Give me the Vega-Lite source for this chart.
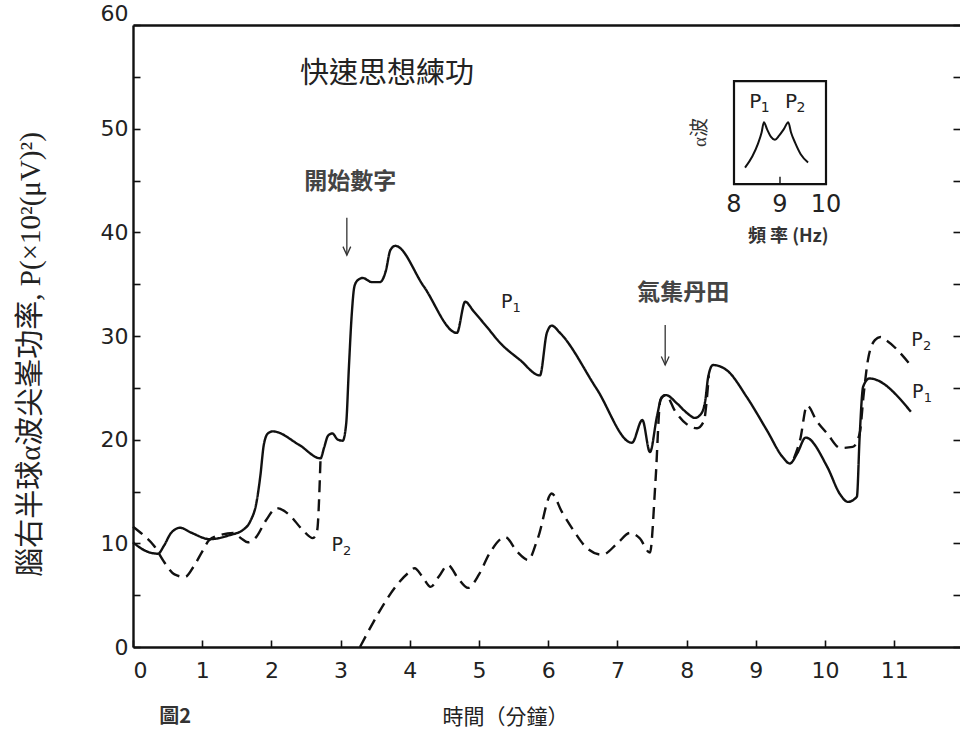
{
  "$schema": "https://vega.github.io/schema/vega-lite/v6.json",
  "width": 827,
  "height": 622,
  "autosize": {"type": "none"},
  "padding": {"left": 133, "top": 25, "right": 0, "bottom": 88},
  "background": "white",
  "config": {
    "view": {"stroke": null},
    "axis": {"grid": false}
  },
  "datasets": {
    "curves": [
      {"series": "P1", "seg": "p1", "t": 0.00, "p": 10.1},
      {"series": "P1", "seg": "p1", "t": 0.12, "p": 9.5},
      {"series": "P1", "seg": "p1", "t": 0.25, "p": 9.1},
      {"series": "P1", "seg": "p1", "t": 0.36, "p": 9.0},
      {"series": "P1", "seg": "p1", "t": 0.45, "p": 9.8},
      {"series": "P1", "seg": "p1", "t": 0.55, "p": 11.0},
      {"series": "P1", "seg": "p1", "t": 0.68, "p": 11.5},
      {"series": "P1", "seg": "p1", "t": 0.85, "p": 11.0},
      {"series": "P1", "seg": "p1", "t": 1.11, "p": 10.4},
      {"series": "P1", "seg": "p1", "t": 1.40, "p": 10.8},
      {"series": "P1", "seg": "p1", "t": 1.59, "p": 11.3},
      {"series": "P1", "seg": "p1", "t": 1.70, "p": 12.2},
      {"series": "P1", "seg": "p1", "t": 1.78, "p": 13.8},
      {"series": "P1", "seg": "p1", "t": 1.84, "p": 16.5},
      {"series": "P1", "seg": "p1", "t": 1.89, "p": 19.5},
      {"series": "P1", "seg": "p1", "t": 1.95, "p": 20.6},
      {"series": "P1", "seg": "p1", "t": 2.02, "p": 20.8},
      {"series": "P1", "seg": "p1", "t": 2.40, "p": 19.5},
      {"series": "P1", "seg": "p1", "t": 2.71, "p": 18.2},
      {"series": "P1", "seg": "p1", "t": 2.76, "p": 19.2},
      {"series": "P1", "seg": "p1", "t": 2.82, "p": 20.4},
      {"series": "P1", "seg": "p1", "t": 2.88, "p": 20.6},
      {"series": "P1", "seg": "p1", "t": 2.96, "p": 20.0},
      {"series": "P1", "seg": "p1", "t": 3.03, "p": 19.9},
      {"series": "P1", "seg": "p1", "t": 3.08, "p": 21.5},
      {"series": "P1", "seg": "p1", "t": 3.12, "p": 27.0},
      {"series": "P1", "seg": "p1", "t": 3.16, "p": 32.0},
      {"series": "P1", "seg": "p1", "t": 3.20, "p": 34.8},
      {"series": "P1", "seg": "p1", "t": 3.25, "p": 35.4},
      {"series": "P1", "seg": "p1", "t": 3.32, "p": 35.6},
      {"series": "P1", "seg": "p1", "t": 3.45, "p": 35.2},
      {"series": "P1", "seg": "p1", "t": 3.57, "p": 35.2},
      {"series": "P1", "seg": "p1", "t": 3.65, "p": 36.2},
      {"series": "P1", "seg": "p1", "t": 3.72, "p": 38.3},
      {"series": "P1", "seg": "p1", "t": 3.79, "p": 38.7},
      {"series": "P1", "seg": "p1", "t": 4.20, "p": 34.8},
      {"series": "P1", "seg": "p1", "t": 4.68, "p": 30.3},
      {"series": "P1", "seg": "p1", "t": 4.80, "p": 33.3},
      {"series": "P1", "seg": "p1", "t": 4.92, "p": 32.4},
      {"series": "P1", "seg": "p1", "t": 5.11, "p": 30.9},
      {"series": "P1", "seg": "p1", "t": 5.31, "p": 29.3},
      {"series": "P1", "seg": "p1", "t": 5.59, "p": 27.7},
      {"series": "P1", "seg": "p1", "t": 5.88, "p": 26.2},
      {"series": "P1", "seg": "p1", "t": 5.98, "p": 30.3},
      {"series": "P1", "seg": "p1", "t": 6.05, "p": 31.0},
      {"series": "P1", "seg": "p1", "t": 6.17, "p": 30.3},
      {"series": "P1", "seg": "p1", "t": 6.70, "p": 24.9},
      {"series": "P1", "seg": "p1", "t": 7.21, "p": 19.7},
      {"series": "P1", "seg": "p1", "t": 7.36, "p": 21.9},
      {"series": "P1", "seg": "p1", "t": 7.47, "p": 18.8},
      {"series": "P1", "seg": "p1", "t": 7.57, "p": 22.2},
      {"series": "P1", "seg": "p1", "t": 7.64, "p": 24.1},
      {"series": "P1", "seg": "p1", "t": 7.70, "p": 24.3},
      {"series": "P1", "seg": "p1", "t": 7.86, "p": 23.5},
      {"series": "P1", "seg": "p1", "t": 8.00, "p": 22.6},
      {"series": "P1", "seg": "p1", "t": 8.12, "p": 22.1},
      {"series": "P1", "seg": "p1", "t": 8.22, "p": 22.6},
      {"series": "P1", "seg": "p1", "t": 8.27, "p": 23.8},
      {"series": "P1", "seg": "p1", "t": 8.31, "p": 26.0},
      {"series": "P1", "seg": "p1", "t": 8.38, "p": 27.2},
      {"series": "P1", "seg": "p1", "t": 8.58, "p": 26.7},
      {"series": "P1", "seg": "p1", "t": 8.87, "p": 24.1},
      {"series": "P1", "seg": "p1", "t": 9.16, "p": 20.9},
      {"series": "P1", "seg": "p1", "t": 9.39, "p": 18.3},
      {"series": "P1", "seg": "p1", "t": 9.49, "p": 17.7},
      {"series": "P1", "seg": "p1", "t": 9.60, "p": 18.7},
      {"series": "P1", "seg": "p1", "t": 9.72, "p": 20.2},
      {"series": "P1", "seg": "p1", "t": 10.03, "p": 17.4},
      {"series": "P1", "seg": "p1", "t": 10.22, "p": 14.7},
      {"series": "P1", "seg": "p1", "t": 10.33, "p": 14.0},
      {"series": "P1", "seg": "p1", "t": 10.46, "p": 14.5},
      {"series": "P1", "seg": "p1", "t": 10.50, "p": 20.3},
      {"series": "P1", "seg": "p1", "t": 10.55, "p": 25.1},
      {"series": "P1", "seg": "p1", "t": 10.64, "p": 25.9},
      {"series": "P1", "seg": "p1", "t": 11.24, "p": 22.7},

      {"series": "P2", "seg": "p2a", "t": 0.00, "p": 11.6},
      {"series": "P2", "seg": "p2a", "t": 0.15, "p": 10.8},
      {"series": "P2", "seg": "p2a", "t": 0.30, "p": 9.8},
      {"series": "P2", "seg": "p2a", "t": 0.45, "p": 8.2},
      {"series": "P2", "seg": "p2a", "t": 0.60, "p": 7.0},
      {"series": "P2", "seg": "p2a", "t": 0.75, "p": 6.75},
      {"series": "P2", "seg": "p2a", "t": 0.88, "p": 7.8},
      {"series": "P2", "seg": "p2a", "t": 1.00, "p": 9.2},
      {"series": "P2", "seg": "p2a", "t": 1.10, "p": 10.3},
      {"series": "P2", "seg": "p2a", "t": 1.26, "p": 10.8},
      {"series": "P2", "seg": "p2a", "t": 1.45, "p": 11.0},
      {"series": "P2", "seg": "p2a", "t": 1.56, "p": 10.5},
      {"series": "P2", "seg": "p2a", "t": 1.66, "p": 10.1},
      {"series": "P2", "seg": "p2a", "t": 1.78, "p": 10.6},
      {"series": "P2", "seg": "p2a", "t": 1.92, "p": 12.2},
      {"series": "P2", "seg": "p2a", "t": 2.08, "p": 13.4},
      {"series": "P2", "seg": "p2a", "t": 2.25, "p": 12.8},
      {"series": "P2", "seg": "p2a", "t": 2.45, "p": 11.3},
      {"series": "P2", "seg": "p2a", "t": 2.60, "p": 10.5},
      {"series": "P2", "seg": "p2a", "t": 2.66, "p": 11.2},
      {"series": "P2", "seg": "p2a", "t": 2.71, "p": 18.2},

      {"series": "P2", "seg": "p2b", "t": 3.28, "p": 0.0},
      {"series": "P2", "seg": "p2b", "t": 3.97, "p": 7.1},
      {"series": "P2", "seg": "p2b", "t": 4.07, "p": 7.6},
      {"series": "P2", "seg": "p2b", "t": 4.18, "p": 6.8},
      {"series": "P2", "seg": "p2b", "t": 4.30, "p": 5.8},
      {"series": "P2", "seg": "p2b", "t": 4.42, "p": 6.8},
      {"series": "P2", "seg": "p2b", "t": 4.55, "p": 7.9},
      {"series": "P2", "seg": "p2b", "t": 4.70, "p": 6.6},
      {"series": "P2", "seg": "p2b", "t": 4.84, "p": 5.7},
      {"series": "P2", "seg": "p2b", "t": 5.00, "p": 7.0},
      {"series": "P2", "seg": "p2b", "t": 5.15, "p": 9.0},
      {"series": "P2", "seg": "p2b", "t": 5.38, "p": 10.6},
      {"series": "P2", "seg": "p2b", "t": 5.55, "p": 9.2},
      {"series": "P2", "seg": "p2b", "t": 5.71, "p": 8.4},
      {"series": "P2", "seg": "p2b", "t": 5.85, "p": 10.5},
      {"series": "P2", "seg": "p2b", "t": 6.05, "p": 14.8},
      {"series": "P2", "seg": "p2b", "t": 6.20, "p": 13.0},
      {"series": "P2", "seg": "p2b", "t": 6.36, "p": 11.3},
      {"series": "P2", "seg": "p2b", "t": 6.55, "p": 9.6},
      {"series": "P2", "seg": "p2b", "t": 6.78, "p": 8.9},
      {"series": "P2", "seg": "p2b", "t": 7.00, "p": 10.0},
      {"series": "P2", "seg": "p2b", "t": 7.18, "p": 11.0},
      {"series": "P2", "seg": "p2b", "t": 7.32, "p": 10.5},
      {"series": "P2", "seg": "p2b", "t": 7.47, "p": 9.1},
      {"series": "P2", "seg": "p2b", "t": 7.55, "p": 16.0},
      {"series": "P2", "seg": "p2b", "t": 7.62, "p": 23.8},
      {"series": "P2", "seg": "p2b", "t": 7.70, "p": 24.3},
      {"series": "P2", "seg": "p2b", "t": 7.83, "p": 22.8},
      {"series": "P2", "seg": "p2b", "t": 8.00, "p": 21.5},
      {"series": "P2", "seg": "p2b", "t": 8.15, "p": 21.1},
      {"series": "P2", "seg": "p2b", "t": 8.25, "p": 21.8},
      {"series": "P2", "seg": "p2b", "t": 8.29, "p": 23.8},
      {"series": "P2", "seg": "p2b", "t": 8.32, "p": 26.2},

      {"series": "P2", "seg": "p2c", "t": 9.55, "p": 18.2},
      {"series": "P2", "seg": "p2c", "t": 9.64, "p": 20.0},
      {"series": "P2", "seg": "p2c", "t": 9.74, "p": 23.3},
      {"series": "P2", "seg": "p2c", "t": 9.88, "p": 21.8},
      {"series": "P2", "seg": "p2c", "t": 10.03, "p": 20.6},
      {"series": "P2", "seg": "p2c", "t": 10.22, "p": 19.2},
      {"series": "P2", "seg": "p2c", "t": 10.40, "p": 19.3},
      {"series": "P2", "seg": "p2c", "t": 10.50, "p": 20.6},
      {"series": "P2", "seg": "p2c", "t": 10.56, "p": 24.5},
      {"series": "P2", "seg": "p2c", "t": 10.62, "p": 27.7},
      {"series": "P2", "seg": "p2c", "t": 10.72, "p": 29.6},
      {"series": "P2", "seg": "p2c", "t": 10.80, "p": 29.9},
      {"series": "P2", "seg": "p2c", "t": 10.88, "p": 29.6},
      {"series": "P2", "seg": "p2c", "t": 11.26, "p": 27.0}
    ],
    "peakLabels": [
      {"t": 2.95, "p": 9.84, "sub": "2"},
      {"t": 5.40, "p": 33.3, "sub": "1"},
      {"t": 11.33, "p": 29.6, "sub": "2"},
      {"t": 11.34, "p": 24.6, "sub": "1"}
    ],
    "arrows": [
      {"t": 3.09, "top": 41.4, "tip": 37.8},
      {"t": 7.69, "top": 31.05, "tip": 27.2}
    ],
    "spectrum": [
      {"f": 8.24, "a": 0.16},
      {"f": 8.40, "a": 0.27},
      {"f": 8.52, "a": 0.39},
      {"f": 8.60, "a": 0.50},
      {"f": 8.65, "a": 0.60},
      {"f": 8.72, "a": 0.53},
      {"f": 8.80, "a": 0.46},
      {"f": 8.89, "a": 0.43},
      {"f": 8.98, "a": 0.47},
      {"f": 9.08, "a": 0.53},
      {"f": 9.18, "a": 0.60},
      {"f": 9.24, "a": 0.50},
      {"f": 9.33, "a": 0.40},
      {"f": 9.45, "a": 0.29},
      {"f": 9.61, "a": 0.21}
    ]
  },
  "layer": [
    {
      "layer": [
        {
          "data": {"name": "curves"},
          "mark": {"type": "line", "interpolate": "monotone", "color": "#111", "strokeWidth": 2.4},
          "encoding": {
            "x": {
              "field": "t", "type": "quantitative",
              "scale": {"domain": [0, 11.95], "nice": false, "zero": false},
              "axis": {
                "orient": "bottom",
                "values": [0, 1, 2, 3, 4, 5, 6, 7, 8, 9, 10, 11],
                "domainColor": "#111", "domainWidth": 2.4,
                "tickColor": "#111", "tickWidth": 1.6, "tickSize": -7,
                "labelFont": "DejaVu Sans", "labelFontSize": 22, "labelColor": "#222",
                "labelPadding": 20,
                "title": "時間（分鐘）",
                "titleFont": "Noto Sans CJK TC", "titleFontSize": 21, "titleFontWeight": "normal",
                "titleColor": "#222", "titleX": 372, "titleY": 70,
                "titleAlign": "center", "titleBaseline": "middle"
              }
            },
            "y": {
              "field": "p", "type": "quantitative",
              "scale": {"domain": [0, 60], "nice": false, "zero": false},
              "axis": {
                "orient": "left",
                "values": [0, 5, 10, 15, 20, 25, 30, 35, 40, 45, 50, 55, 60],
                "labelExpr": "datum.value % 10 === 0 ? datum.label : ''",
                "domainColor": "#111", "domainWidth": 2.4,
                "tickColor": "#111", "tickWidth": 1.6, "tickSize": -7,
                "labelFont": "DejaVu Sans", "labelFontSize": 22, "labelColor": "#222",
                "labelPadding": 12,
                "labelOffset": {"condition": {"test": "datum.value === 60", "value": -12}, "value": 0},
                "title": "腦右半球α波尖峯功率, P(×10²(μV)²)",
                "titleFont": "Liberation Serif, Noto Sans CJK TC", "titleFontSize": 29,
                "titleFontWeight": "normal", "titleColor": "#222",
                "titleX": -103, "titleY": 329, "titleAngle": -90,
                "titleAlign": "center", "titleBaseline": "middle"
              }
            },
            "detail": {"field": "seg"},
            "strokeDash": {
              "field": "series", "type": "nominal",
              "scale": {"domain": ["P1", "P2"], "range": [[1, 0], [12, 7]]},
              "legend": null
            }
          }
        },
        {
          "data": {"name": "peakLabels"},
          "mark": {"type": "text", "font": "DejaVu Sans", "fontSize": 19, "color": "#222", "align": "center", "baseline": "middle"},
          "encoding": {
            "x": {
              "field": "t", "type": "quantitative",
              "scale": {"domain": [0, 11.95], "nice": false, "zero": false},
              "axis": {"orient": "top", "domainColor": "#111", "domainWidth": 2.4, "ticks": false, "labels": false, "title": null}
            },
            "y": {
              "field": "p", "type": "quantitative",
              "scale": {"domain": [0, 60], "nice": false, "zero": false},
              "axis": {
                "orient": "right", "domain": false, "labels": false, "title": null,
                "values": [0, 5, 10, 15, 20, 25, 30, 35, 40, 45, 50, 55, 60],
                "tickColor": "#111", "tickWidth": 1.6, "tickSize": -7
              }
            },
            "text": {"value": "P"}
          }
        },
        {
          "data": {"name": "peakLabels"},
          "mark": {"type": "text", "font": "DejaVu Sans", "fontSize": 13, "color": "#222", "align": "center", "baseline": "middle", "dx": 10, "dy": 6},
          "encoding": {
            "x": {"field": "t", "type": "quantitative", "scale": {"domain": [0, 11.95], "nice": false, "zero": false}, "axis": null},
            "y": {"field": "p", "type": "quantitative", "scale": {"domain": [0, 60], "nice": false, "zero": false}, "axis": null},
            "text": {"field": "sub"}
          }
        },
        {
          "data": {"values": [{"t": 3.67, "p": 55.3, "label": "快速思想練功"}]},
          "mark": {"type": "text", "font": "Noto Sans CJK TC", "fontSize": 29, "color": "#222", "align": "center", "baseline": "middle"},
          "encoding": {
            "x": {"field": "t", "type": "quantitative", "scale": {"domain": [0, 11.95], "nice": false, "zero": false}, "axis": null},
            "y": {"field": "p", "type": "quantitative", "scale": {"domain": [0, 60], "nice": false, "zero": false}, "axis": null},
            "text": {"field": "label"}
          }
        },
        {
          "data": {"values": [
            {"t": 3.14, "p": 44.9, "label": "開始數字"},
            {"t": 7.95, "p": 34.1, "label": "氣集丹田"}
          ]},
          "mark": {"type": "text", "font": "Noto Sans CJK TC", "fontSize": 23, "fontWeight": "bold", "color": "#444", "align": "center", "baseline": "middle"},
          "encoding": {
            "x": {"field": "t", "type": "quantitative", "scale": {"domain": [0, 11.95], "nice": false, "zero": false}, "axis": null},
            "y": {"field": "p", "type": "quantitative", "scale": {"domain": [0, 60], "nice": false, "zero": false}, "axis": null},
            "text": {"field": "label"}
          }
        },
        {
          "data": {"values": [{"t": 0.61, "p": -6.75, "label": "圖2"}]},
          "mark": {"type": "text", "font": "Noto Sans CJK TC", "fontSize": 20, "fontWeight": "bold", "color": "#333", "align": "center", "baseline": "middle"},
          "encoding": {
            "x": {"field": "t", "type": "quantitative", "scale": {"domain": [0, 11.95], "nice": false, "zero": false}, "axis": null},
            "y": {"field": "p", "type": "quantitative", "scale": {"domain": [0, 60], "nice": false, "zero": false}, "axis": null},
            "text": {"field": "label"}
          }
        },
        {
          "data": {"name": "arrows"},
          "mark": {"type": "rule", "color": "#333", "strokeWidth": 1.3},
          "encoding": {
            "x": {"field": "t", "type": "quantitative", "scale": {"domain": [0, 11.95], "nice": false, "zero": false}, "axis": null},
            "y": {"field": "top", "type": "quantitative", "scale": {"domain": [0, 60], "nice": false, "zero": false}, "axis": null},
            "y2": {"field": "tip"}
          }
        },
        {
          "data": {"name": "arrows"},
          "mark": {"type": "point", "shape": "M-1,-2.2L0,0L1,-2.2", "filled": false, "size": 60, "color": "#333", "strokeWidth": 1.3, "opacity": 1},
          "encoding": {
            "x": {"field": "t", "type": "quantitative", "scale": {"domain": [0, 11.95], "nice": false, "zero": false}, "axis": null},
            "y": {"field": "tip", "type": "quantitative", "scale": {"domain": [0, 60], "nice": false, "zero": false}, "axis": null}
          }
        }
      ]
    },
    {
      "layer": [
        {
          "data": {"values": [{"f0": 8, "f1": 10, "a0": 0, "a1": 1}]},
          "mark": {"type": "rect", "fill": null, "fillOpacity": 0, "stroke": "#111", "strokeWidth": 2.2},
          "encoding": {
            "x": {"field": "f0", "type": "quantitative", "scale": {"domain": [-5.065, 12.913], "nice": false, "zero": false}, "axis": null},
            "x2": {"field": "f1"},
            "y": {"field": "a0", "type": "quantitative", "scale": {"domain": [-4.495, 1.544], "nice": false, "zero": false}, "axis": null},
            "y2": {"field": "a1"}
          }
        },
        {
          "data": {"values": [{"f": 9, "a0": 0, "a1": 0.07}]},
          "mark": {"type": "rule", "color": "#111", "strokeWidth": 1.4},
          "encoding": {
            "x": {"field": "f", "type": "quantitative", "scale": {"domain": [-5.065, 12.913], "nice": false, "zero": false}, "axis": null},
            "y": {"field": "a0", "type": "quantitative", "scale": {"domain": [-4.495, 1.544], "nice": false, "zero": false}, "axis": null},
            "y2": {"field": "a1"}
          }
        },
        {
          "data": {"name": "spectrum"},
          "mark": {"type": "line", "interpolate": "monotone", "color": "#111", "strokeWidth": 2},
          "encoding": {
            "x": {"field": "f", "type": "quantitative", "scale": {"domain": [-5.065, 12.913], "nice": false, "zero": false}, "axis": null},
            "y": {"field": "a", "type": "quantitative", "scale": {"domain": [-4.495, 1.544], "nice": false, "zero": false}, "axis": null}
          }
        },
        {
          "data": {"values": [
            {"f": 8, "a": -0.2, "label": "8"},
            {"f": 9, "a": -0.2, "label": "9"},
            {"f": 10, "a": -0.2, "label": "10"}
          ]},
          "mark": {"type": "text", "font": "DejaVu Sans", "fontSize": 24, "color": "#222", "align": "center", "baseline": "middle"},
          "encoding": {
            "x": {"field": "f", "type": "quantitative", "scale": {"domain": [-5.065, 12.913], "nice": false, "zero": false}, "axis": null},
            "y": {"field": "a", "type": "quantitative", "scale": {"domain": [-4.495, 1.544], "nice": false, "zero": false}, "axis": null},
            "text": {"field": "label"}
          }
        },
        {
          "data": {"values": [{"f": 9.18, "a": -0.51, "label": "頻 率 (Hz)"}]},
          "mark": {"type": "text", "font": "Noto Sans CJK TC", "fontSize": 18, "fontWeight": "bold", "color": "#333", "align": "center", "baseline": "middle"},
          "encoding": {
            "x": {"field": "f", "type": "quantitative", "scale": {"domain": [-5.065, 12.913], "nice": false, "zero": false}, "axis": null},
            "y": {"field": "a", "type": "quantitative", "scale": {"domain": [-4.495, 1.544], "nice": false, "zero": false}, "axis": null},
            "text": {"field": "label"}
          }
        },
        {
          "data": {"values": [{"f": 7.26, "a": 0.5, "label": "α波"}]},
          "mark": {"type": "text", "font": "Liberation Serif, Noto Sans CJK TC", "fontSize": 19, "color": "#333", "align": "center", "baseline": "middle", "angle": 270},
          "encoding": {
            "x": {"field": "f", "type": "quantitative", "scale": {"domain": [-5.065, 12.913], "nice": false, "zero": false}, "axis": null},
            "y": {"field": "a", "type": "quantitative", "scale": {"domain": [-4.495, 1.544], "nice": false, "zero": false}, "axis": null},
            "text": {"field": "label"}
          }
        },
        {
          "data": {"values": [{"f": 8.46, "a": 0.8, "sub": "1"}, {"f": 9.24, "a": 0.8, "sub": "2"}]},
          "mark": {"type": "text", "font": "DejaVu Sans", "fontSize": 20, "color": "#222", "align": "center", "baseline": "middle"},
          "encoding": {
            "x": {"field": "f", "type": "quantitative", "scale": {"domain": [-5.065, 12.913], "nice": false, "zero": false}, "axis": null},
            "y": {"field": "a", "type": "quantitative", "scale": {"domain": [-4.495, 1.544], "nice": false, "zero": false}, "axis": null},
            "text": {"value": "P"}
          }
        },
        {
          "data": {"values": [{"f": 8.46, "a": 0.8, "sub": "1"}, {"f": 9.24, "a": 0.8, "sub": "2"}]},
          "mark": {"type": "text", "font": "DejaVu Sans", "fontSize": 14, "color": "#222", "align": "center", "baseline": "middle", "dx": 10, "dy": 6},
          "encoding": {
            "x": {"field": "f", "type": "quantitative", "scale": {"domain": [-5.065, 12.913], "nice": false, "zero": false}, "axis": null},
            "y": {"field": "a", "type": "quantitative", "scale": {"domain": [-4.495, 1.544], "nice": false, "zero": false}, "axis": null},
            "text": {"field": "sub"}
          }
        }
      ]
    }
  ],
  "resolve": {"scale": {"x": "independent", "y": "independent"}}
}
